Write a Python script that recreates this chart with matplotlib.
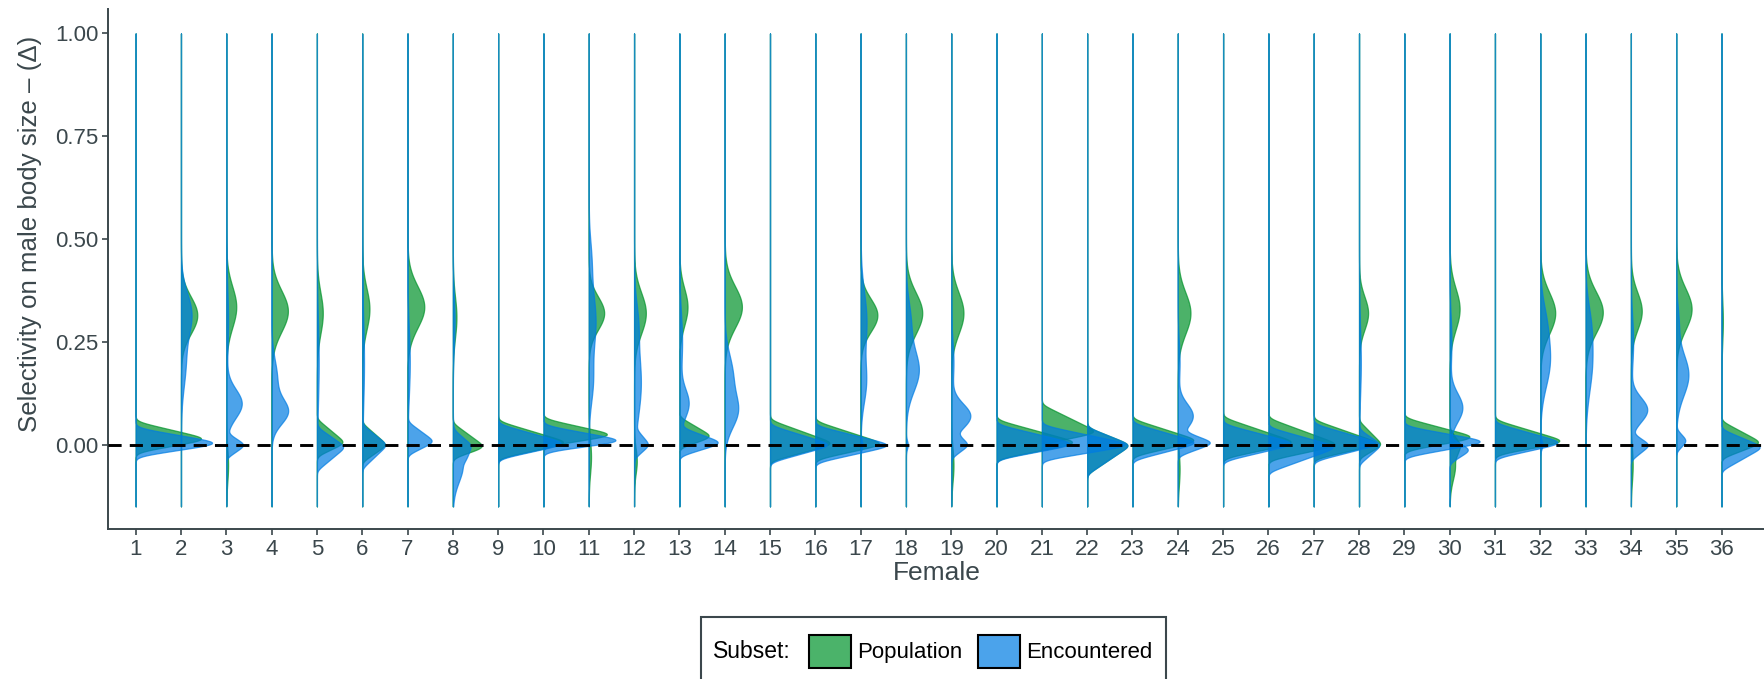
import numpy as np
import matplotlib
matplotlib.use("Agg")
import matplotlib.pyplot as plt
from matplotlib.patches import Patch, Rectangle

plt.rcParams['font.family'] = ['Liberation Sans', 'DejaVu Sans']

females = [str(i) for i in range(1, 37)]

# per female
# bumps:  (centre, spread, width)          smooth hump
# spikes: (centre, reach up, reach down, width)   pointed peak
pop_bumps = [
    [], [(0.315, 0.045, 0.36)], [(0.335, 0.05, 0.22), (-0.05, 0.04, 0.04)],
    [(0.325, 0.05, 0.36)], [(0.32, 0.05, 0.13)], [(0.33, 0.05, 0.16)],
    [(0.335, 0.05, 0.37)], [(0.31, 0.05, 0.08)], [],
    [], [(0.32, 0.04, 0.34), (-0.03, 0.04, 0.05)], [(0.32, 0.05, 0.26), (-0.04, 0.03, 0.06)],
    [(0.335, 0.045, 0.18)], [(0.335, 0.05, 0.38)], [],
    [], [(0.315, 0.04, 0.37)], [(0.32, 0.05, 0.36)],
    [(0.32, 0.05, 0.27), (-0.05, 0.04, 0.05)], [], [],
    [], [], [(0.32, 0.05, 0.28), (-0.06, 0.04, 0.04)],
    [], [], [],
    [(0.32, 0.04, 0.2)], [], [(0.33, 0.05, 0.22), (-0.05, 0.035, 0.12)],
    [], [(0.32, 0.05, 0.33)], [(0.322, 0.05, 0.38)],
    [(0.325, 0.045, 0.24), (-0.05, 0.04, 0.04)], [(0.33, 0.05, 0.34)], [(0.3, 0.05, 0.03)],
]

pop_spikes = [
    [(0.014, 0.043, 0.033, 1.65)], [], [],
    [], [(0.005, 0.058, 0.033, 0.63)], [(0.0, 0.053, 0.042, 0.55)],
    [], [(-0.005, 0.058, 0.028, 0.72)], [(0.005, 0.053, 0.038, 1.6)],
    [(0.024, 0.04, 0.028, 1.63)], [], [],
    [(0.02, 0.048, 0.028, 0.74)], [], [(0.003, 0.058, 0.043, 1.45)],
    [(0.002, 0.056, 0.038, 1.56)], [], [],
    [], [(0.005, 0.056, 0.04, 1.85)], [(0.03, 0.068, 0.028, 1.26)],
    [(0.0, 0.043, 0.072, 0.97)], [(0.01, 0.053, 0.038, 1.5)], [],
    [(0.005, 0.062, 0.038, 1.65)], [(0.0, 0.065, 0.038, 1.6)], [(0.003, 0.058, 0.038, 1.5)],
    [(0.0, 0.058, 0.033, 0.52)], [(0.018, 0.048, 0.033, 1.63)], [(0.0, 0.038, 0.038, 0.21)],
    [(0.008, 0.053, 0.033, 1.6)], [], [],
    [], [], [(0.005, 0.053, 0.038, 0.9)],
]

enc_bumps = [
    [], [(0.32, 0.05, 0.22), (0.2, 0.06, 0.1)], [(0.1, 0.035, 0.34), (0.3, 0.08, 0.04)],
    [(0.08, 0.03, 0.34), (0.16, 0.045, 0.12)], [(0.2, 0.1, 0.04)], [(0.2, 0.1, 0.04)],
    [(0.2, 0.08, 0.05)], [(-0.05, 0.04, 0.22), (0.3, 0.06, 0.04)], [],
    [], [(0.3, 0.07, 0.15), (0.45, 0.05, 0.05), (0.15, 0.05, 0.08)], [(0.15, 0.08, 0.15), (0.3, 0.05, 0.07)],
    [(0.1, 0.035, 0.2), (0.25, 0.07, 0.06)], [(0.08, 0.04, 0.26), (0.17, 0.05, 0.17)], [],
    [], [(0.3, 0.07, 0.13), (0.15, 0.05, 0.11), (0.0, 0.01, 0.04)], [(0.18, 0.05, 0.28), (0.3, 0.05, 0.1), (0.0, 0.01, 0.04)],
    [(0.07, 0.03, 0.42), (0.2, 0.05, 0.05)], [], [],
    [], [], [(0.07, 0.03, 0.33), (0.2, 0.05, 0.04)],
    [], [], [],
    [(0.2, 0.08, 0.04)], [], [(0.09, 0.035, 0.28), (0.25, 0.06, 0.04)],
    [], [(0.2, 0.06, 0.2), (0.3, 0.05, 0.1), (0.0, 0.01, 0.05)], [(0.2, 0.07, 0.14), (0.3, 0.05, 0.07)],
    [(0.085, 0.03, 0.36), (0.25, 0.06, 0.05)], [(0.17, 0.05, 0.27), (0.3, 0.04, 0.05)], [],
]

enc_spikes = [
    [(0.004, 0.038, 0.033, 1.95)], [], [(0.0, 0.028, 0.033, 0.43)],
    [], [(-0.005, 0.048, 0.058, 0.63)], [(0.0, 0.048, 0.058, 0.55)],
    [(0.008, 0.048, 0.033, 0.6)], [(0.0, 0.038, 0.048, 0.32)], [(0.003, 0.048, 0.038, 1.55)],
    [(0.01, 0.038, 0.028, 1.86)], [], [(0.0, 0.038, 0.033, 0.32)],
    [(0.005, 0.038, 0.033, 0.97)], [], [(0.0, 0.048, 0.043, 1.4)],
    [(-0.001, 0.048, 0.043, 1.75)], [], [],
    [(0.0, 0.028, 0.033, 0.38)], [(0.002, 0.048, 0.038, 1.8)], [(0.0, 0.048, 0.038, 2.05)],
    [(0.0, 0.043, 0.072, 0.97)], [(0.005, 0.048, 0.043, 1.5)], [(0.005, 0.028, 0.033, 0.8)],
    [(0.003, 0.048, 0.043, 1.65)], [(-0.005, 0.048, 0.062, 1.55)], [(0.003, 0.048, 0.043, 1.52)],
    [(0.0, 0.038, 0.048, 0.5)], [(0.008, 0.038, 0.038, 1.9)], [(-0.012, 0.028, 0.033, 0.47)],
    [(0.005, 0.048, 0.038, 1.55)], [], [],
    [(0.0, 0.028, 0.038, 0.43)], [(0.01, 0.028, 0.028, 0.24)], [(-0.005, 0.043, 0.058, 0.93)],
]

GREEN = "#00922A"
BLUE = "#007CE2"
DARK = "#3b474c"


def half_violin(ax, x0, bumps, spikes, colour, y):
    dens = np.zeros_like(y)
    for mu, sd, w in bumps:
        dens += w * np.exp(-0.5 * ((y - mu) / sd) ** 2)
    peak = np.zeros_like(y)
    for mu, up, down, w in spikes:
        reach = np.where(y >= mu, up, down)
        peak += w * np.clip(1 - np.abs(y - mu) / reach, 0, 1)
    # soften the corners like a kernel density does
    step = y[1] - y[0]
    k = np.arange(-40, 41) * step
    kern = np.exp(-0.5 * (k / 0.006) ** 2)
    dens += np.convolve(peak, kern / kern.sum(), mode="same")
    ax.fill_betweenx(y, x0, x0 + dens, facecolor=colour, edgecolor=colour,
                     alpha=0.7, linewidth=0.9)


def main():
    fig = plt.figure(figsize=(17.65, 6.79), dpi=100)
    ax = fig.add_axes([0.0612, 0.221, 0.9388, 0.766])

    y = np.linspace(-0.15, 1.0, 1500)
    for i in range(len(females)):
        half_violin(ax, i + 1, pop_bumps[i], pop_spikes[i], GREEN, y)
    for i in range(len(females)):
        half_violin(ax, i + 1, enc_bumps[i], enc_spikes[i], BLUE, y)

    ax.axhline(0, color="black", linestyle=(0, (4.5, 2.8)), linewidth=2.1, zorder=5)

    ax.set_xlim(0.39, 36.96)
    ax.set_ylim(-0.205, 1.06)
    ax.set_xticks(range(1, 37))
    ax.set_xticklabels(females)
    ax.set_yticks([0, 0.25, 0.5, 0.75, 1.0])
    ax.set_yticklabels(["0.00", "0.25", "0.50", "0.75", "1.00"])

    for s in ["top", "right"]:
        ax.spines[s].set_visible(False)
    for s in ["left", "bottom"]:
        ax.spines[s].set_color(DARK)
        ax.spines[s].set_linewidth(1.4)
    ax.tick_params(colors=DARK, labelcolor=DARK, labelsize=16,
                   length=4, width=1.2, pad=3)

    ax.set_xlabel("Female", fontsize=19, color=DARK, labelpad=1)
    ax.set_ylabel("Selectivity on male body size \u2013 (\u0394)", fontsize=18.6,
                  color=DARK)
    ax.yaxis.set_label_coords(-0.040, 0.568)

    # legend with the title inline; its box runs off the bottom edge
    handles = [Patch(facecolor="#4BB36A", edgecolor="black", linewidth=1.5),
               Patch(facecolor="#4BA3EB", edgecolor="black", linewidth=1.5)]
    fig.legend(handles, ["Population", "Encountered"], loc="center left",
               bbox_to_anchor=(0.4584, 0.041), ncol=2, frameon=False,
               fontsize=16, handlelength=1.9, handleheight=1.9,
               handletextpad=0.27, columnspacing=0.68, borderpad=0,
               borderaxespad=0)
    fig.text(0.4037, 0.041, "Subset:", fontsize=16.5, va="center", ha="left")
    fig.add_artist(Rectangle((0.397, -0.05), 0.2635, 0.1413,
                             transform=fig.transFigure, fill=False,
                             edgecolor=DARK, linewidth=1.5))

    fig.savefig("out.png", dpi=100)


if __name__ == "__main__":
    main()
